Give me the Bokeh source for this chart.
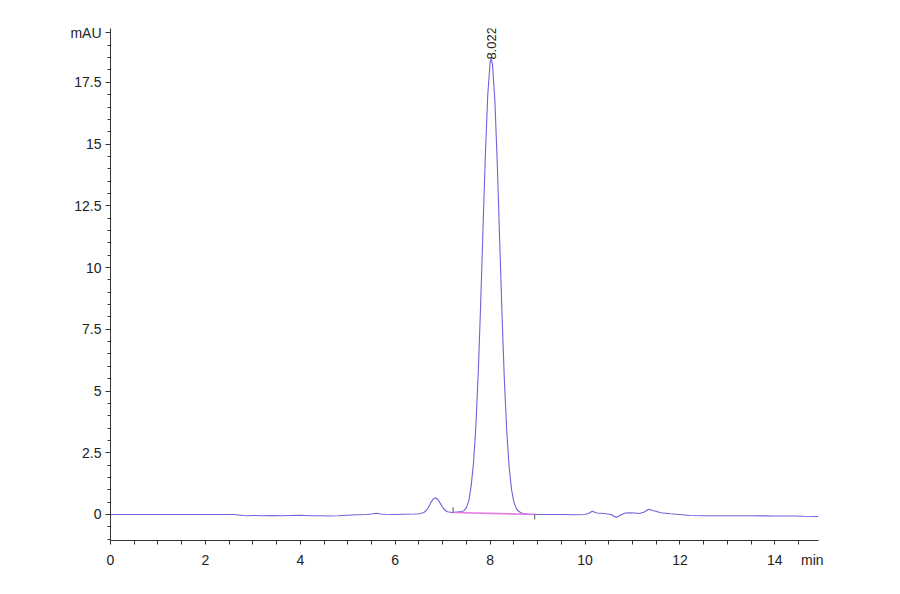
import math
from bokeh.plotting import figure
from bokeh.models import FixedTicker, Label, Range1d
from bokeh.embed import file_html
from bokeh.resources import INLINE

# ---- data (time in min, signal in mAU) ----
time_min = [0.0, 1.0, 2.0, 2.6, 2.7, 2.8, 2.9, 3.0, 3.2, 3.4, 3.6, 3.8, 4.0, 4.2, 4.4, 4.6, 4.8,
            5.0, 5.2, 5.4, 5.5, 5.6, 5.7, 5.8, 6.0, 6.2, 6.4, 6.5, 6.55, 6.6, 6.65, 6.7, 6.75,
            6.8, 6.85, 6.9, 6.95, 7.0, 7.05, 7.1, 7.2, 7.3, 7.4, 7.45, 7.5, 7.55, 7.6, 7.65,
            7.7, 7.75, 7.8, 7.85, 7.9, 7.95, 8.0, 8.022, 8.05, 8.1, 8.15, 8.2, 8.25, 8.3, 8.35,
            8.4, 8.45, 8.5, 8.55, 8.6, 8.65, 8.7, 8.8, 8.9, 9.0, 9.2, 9.5, 9.8, 10.0, 10.08,
            10.15, 10.25, 10.4, 10.55, 10.66, 10.75, 10.85, 10.95, 11.05, 11.15, 11.25, 11.34,
            11.45, 11.6, 11.8, 12.0, 12.2, 12.5, 13.0, 13.5, 14.0, 14.4, 14.6, 14.92]
signal_mau = [0.0, 0.0, 0.0, 0.0, -0.02, -0.04, -0.05, -0.04, -0.05, -0.04, -0.05, -0.04, -0.03,
              -0.05, -0.05, -0.06, -0.05, -0.03, -0.01, 0.0, 0.02, 0.05, 0.02, 0.01, 0.0, 0.01,
              0.02, 0.03, 0.05, 0.08, 0.15, 0.29, 0.48, 0.63, 0.68, 0.61, 0.45, 0.29, 0.17,
              0.11, 0.08, 0.10, 0.12, 0.15, 0.28, 0.55, 1.15, 2.10, 3.60, 5.75, 8.48, 11.57,
              14.59, 16.99, 18.31, 18.47, 18.22, 16.76, 14.25, 11.19, 8.13, 5.45, 3.38, 1.94,
              1.03, 0.50, 0.25, 0.13, 0.07, 0.04, 0.02, 0.01, 0.0, 0.0, 0.0, -0.01, 0.0, 0.05,
              0.13, 0.06, 0.04, 0.0, -0.12, -0.02, 0.06, 0.07, 0.06, 0.04, 0.10, 0.21, 0.15,
              0.07, 0.03, 0.0, -0.04, -0.05, -0.05, -0.05, -0.06, -0.06, -0.07, -0.08]

peak_time = 8.022
peak_label = "8.022"
baseline_t = [7.22, 8.94]
baseline_y = [0.08, 0.0]

x_major_ticks = [0, 2, 4, 6, 8, 10, 12, 14, 14.79]
x_tick_labels = {0: "0", 2: "2", 4: "4", 6: "6", 8: "8", 10: "10", 12: "12", 14: "14",
                 14.79: "min"}
y_major_ticks = [0, 2.5, 5, 7.5, 10, 12.5, 15, 17.5, 19.5]
y_tick_labels = {0: "0", 2.5: "2.5", 5: "5", 7.5: "7.5", 10: "10", 12.5: "12.5",
                 15: "15", 17.5: "17.5", 19.5: "mAU"}

FONT = "Liberation Sans Narrow, Liberation Sans, Arial"

p = figure(width=884, height=578, output_backend="svg", toolbar_location=None,
           x_range=Range1d(0, 14.92), y_range=Range1d(-1.053, 19.68),
           min_border_left=110, min_border_right=66, min_border_top=28, min_border_bottom=38)
p.outline_line_color = None
p.xgrid.visible = False
p.ygrid.visible = False
p.background_fill_color = "white"
p.border_fill_color = "white"

p.line(time_min, signal_mau, line_color="#6e62dc", line_width=1.1)
p.line(baseline_t, baseline_y, line_color="#e37fe0", line_width=1.6)
p.segment(x0=baseline_t, y0=[baseline_y[0], baseline_y[1]],
          x1=baseline_t, y1=[baseline_y[0] + 0.22, baseline_y[1] - 0.2],
          line_color="#555555", line_width=1)

x_minor = [i * 0.5 for i in range(0, 30)]
y_minor = [i * 0.5 for i in range(-2, 40)]

p.xaxis.ticker = FixedTicker(ticks=x_major_ticks, minor_ticks=x_minor)
p.xaxis.major_label_overrides = x_tick_labels
p.yaxis.ticker = FixedTicker(ticks=y_major_ticks, minor_ticks=y_minor)
p.yaxis.major_label_overrides = y_tick_labels

for ax in (p.xaxis, p.yaxis):
    ax.axis_line_color = "#333333"
    ax.major_tick_line_color = "#333333"
    ax.minor_tick_line_color = "#333333"
    ax.major_tick_in = 0
    ax.minor_tick_in = 0
    ax.major_label_text_font = FONT
    ax.major_label_text_font_size = "14px"
    ax.major_label_text_color = "#222222"

p.xaxis.major_tick_out = 0
p.xaxis.minor_tick_out = 4
p.xaxis.major_label_standoff = 7
p.yaxis.major_tick_out = 5
p.yaxis.minor_tick_out = 3
p.yaxis.major_label_standoff = 4

p.add_layout(Label(x=peak_time, y=18.42, text=peak_label, angle=math.pi / 2,
                   text_align="left", text_baseline="middle", text_font="Liberation Sans",
                   text_font_size="13px", text_color="#222222"))

open("out.html", "w").write(file_html(p, INLINE))
